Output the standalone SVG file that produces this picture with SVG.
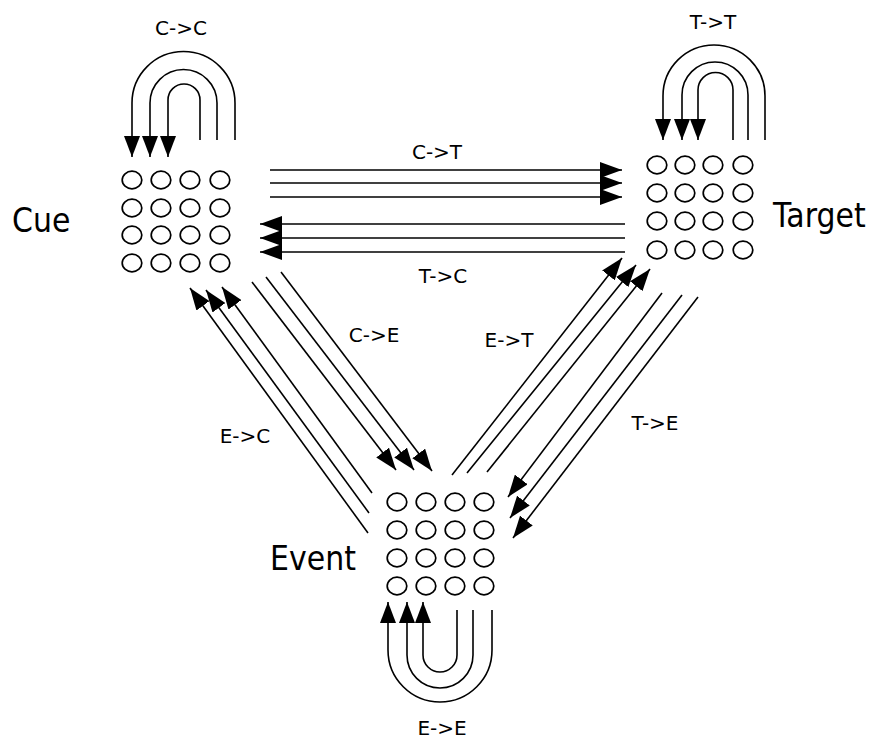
<svg xmlns="http://www.w3.org/2000/svg" width="876" height="740" viewBox="0 0 876 740">
<style>
.c{fill:none;stroke:#000;stroke-width:1.7}
.l{fill:none;stroke:#000;stroke-width:1.6;marker-end:url(#ah)}
.lp{fill:none;stroke:#000;stroke-width:1.6;marker-end:url(#ah2)}
.big{font-family:"DejaVu Sans",Verdana,sans-serif;font-size:30px;fill:#000}
.sm{font-family:"DejaVu Sans",Verdana,sans-serif;font-size:20px;fill:#000;text-anchor:middle}
</style>
<defs>
<marker id="ah" viewBox="0 0 22 16" refX="22" refY="8" markerWidth="22" markerHeight="16" orient="auto" markerUnits="userSpaceOnUse"><path d="M0,0 L22,8 L0,16 Z" fill="#000"/></marker>
<marker id="ah2" viewBox="0 0 21 16" refX="21" refY="8" markerWidth="21" markerHeight="16" orient="auto" markerUnits="userSpaceOnUse"><path d="M0,0 L21,8 L0,16 Z" fill="#000"/></marker>
</defs>
<rect width="876" height="740" fill="#fff"/>
<g id="cue">
<text class="big" transform="translate(12,232) scale(1,1.12)">Cue</text>
<g class="c">
<ellipse cx="132" cy="180" rx="9.8" ry="8.8"/><ellipse cx="161" cy="180" rx="9.8" ry="8.8"/><ellipse cx="190" cy="180" rx="9.8" ry="8.8"/><ellipse cx="220" cy="180" rx="9.8" ry="8.8"/>
<ellipse cx="132" cy="208" rx="9.8" ry="8.8"/><ellipse cx="161" cy="208" rx="9.8" ry="8.8"/><ellipse cx="190" cy="208" rx="9.8" ry="8.8"/><ellipse cx="220" cy="208" rx="9.8" ry="8.8"/>
<ellipse cx="132" cy="235" rx="9.8" ry="8.8"/><ellipse cx="161" cy="235" rx="9.8" ry="8.8"/><ellipse cx="190" cy="235" rx="9.8" ry="8.8"/><ellipse cx="220" cy="235" rx="9.8" ry="8.8"/>
<ellipse cx="132" cy="263" rx="9.8" ry="8.8"/><ellipse cx="161" cy="263" rx="9.8" ry="8.8"/><ellipse cx="190" cy="263" rx="9.8" ry="8.8"/><ellipse cx="220" cy="263" rx="9.8" ry="8.8"/>
</g>
</g>
<g id="target">
<text class="big" transform="translate(773,227) scale(1,1.12)">Target</text>
<g class="c">
<ellipse cx="657" cy="165" rx="9.8" ry="8.8"/><ellipse cx="685" cy="165" rx="9.8" ry="8.8"/><ellipse cx="713" cy="165" rx="9.8" ry="8.8"/><ellipse cx="743" cy="165" rx="9.8" ry="8.8"/>
<ellipse cx="657" cy="193" rx="9.8" ry="8.8"/><ellipse cx="685" cy="193" rx="9.8" ry="8.8"/><ellipse cx="713" cy="193" rx="9.8" ry="8.8"/><ellipse cx="743" cy="193" rx="9.8" ry="8.8"/>
<ellipse cx="657" cy="221" rx="9.8" ry="8.8"/><ellipse cx="685" cy="221" rx="9.8" ry="8.8"/><ellipse cx="713" cy="221" rx="9.8" ry="8.8"/><ellipse cx="743" cy="221" rx="9.8" ry="8.8"/>
<ellipse cx="657" cy="250" rx="9.8" ry="8.8"/><ellipse cx="685" cy="250" rx="9.8" ry="8.8"/><ellipse cx="713" cy="250" rx="9.8" ry="8.8"/><ellipse cx="743" cy="250" rx="9.8" ry="8.8"/>
</g>
</g>
<g id="event">
<text class="big" transform="translate(270,570) scale(1,1.12)">Event</text>
<g class="c">
<ellipse cx="397" cy="502" rx="9.8" ry="8.8"/><ellipse cx="426" cy="502" rx="9.8" ry="8.8"/><ellipse cx="455" cy="502" rx="9.8" ry="8.8"/><ellipse cx="484" cy="502" rx="9.8" ry="8.8"/>
<ellipse cx="397" cy="530" rx="9.8" ry="8.8"/><ellipse cx="426" cy="530" rx="9.8" ry="8.8"/><ellipse cx="455" cy="530" rx="9.8" ry="8.8"/><ellipse cx="484" cy="530" rx="9.8" ry="8.8"/>
<ellipse cx="397" cy="558" rx="9.8" ry="8.8"/><ellipse cx="426" cy="558" rx="9.8" ry="8.8"/><ellipse cx="455" cy="558" rx="9.8" ry="8.8"/><ellipse cx="484" cy="558" rx="9.8" ry="8.8"/>
<ellipse cx="397" cy="586" rx="9.8" ry="8.8"/><ellipse cx="426" cy="586" rx="9.8" ry="8.8"/><ellipse cx="455" cy="586" rx="9.8" ry="8.8"/><ellipse cx="484" cy="586" rx="9.8" ry="8.8"/>
</g>
</g>
<g id="connectors">
<g id="c-c">
<path class="lp" d="M235,140 L235,103 A51.5,51.5 0 0 0 132,103 L132,157"/>
<path class="lp" d="M217,140 L217,103 A33.5,33.5 0 0 0 150,103 L150,157"/>
<path class="lp" d="M200,140 L200,100 A16,16 0 0 0 168,100 L168,157"/>
<text class="sm" x="181" y="35">C-&gt;C</text>
</g>
<g id="t-t">
<path class="lp" d="M765,140 L765,96 A51,51 0 0 0 663,96 L663,140"/>
<path class="lp" d="M748,140 L748,95 A33,33 0 0 0 682,95 L682,140"/>
<path class="lp" d="M733,140 L733,90 A17.5,17.5 0 0 0 698,90 L698,140"/>
<text class="sm" x="713" y="29">T-&gt;T</text>
</g>
<g id="e-e">
<path class="lp" d="M492,610 L492,650 A52,52 0 0 1 388,650 L388,602"/>
<path class="lp" d="M473,610 L473,655 A33,33 0 0 1 407,655 L407,602"/>
<path class="lp" d="M457,610 L457,655 A17,17 0 0 1 423,655 L423,602"/>
<text class="sm" x="442" y="735">E-&gt;E</text>
</g>
<g id="c-t">
<path class="l" d="M270,170 L622,170"/>
<path class="l" d="M270,183 L622,183"/>
<path class="l" d="M270,197 L622,197"/>
<text class="sm" x="437" y="159">C-&gt;T</text>
</g>
<g id="t-c">
<path class="l" d="M625,224 L260,224"/>
<path class="l" d="M625,238 L260,238"/>
<path class="l" d="M625,252 L260,252"/>
<text class="sm" x="443" y="283">T-&gt;C</text>
</g>
<g id="c-e">
<path class="l" d="M252,282 L396,470"/>
<path class="l" d="M266,277 L414,470"/>
<path class="l" d="M281,272 L432,471"/>
<text class="sm" x="374" y="342">C-&gt;E</text>
</g>
<g id="e-c">
<path class="l" d="M368,533 L190,288"/>
<path class="l" d="M369,513 L206,290"/>
<path class="l" d="M372,493 L222,287"/>
<text class="sm" x="245" y="443">E-&gt;C</text>
</g>
<g id="e-t">
<path class="l" d="M452,475 L622,258"/>
<path class="l" d="M467,473 L636,265"/>
<path class="l" d="M487,472 L650,269"/>
<text class="sm" x="509" y="347">E-&gt;T</text>
</g>
<g id="t-e">
<path class="l" d="M662,293 L508,497"/>
<path class="l" d="M682,295 L510,518"/>
<path class="l" d="M698,297 L513,538"/>
<text class="sm" x="655" y="430">T-&gt;E</text>
</g>
</g>
</svg>
